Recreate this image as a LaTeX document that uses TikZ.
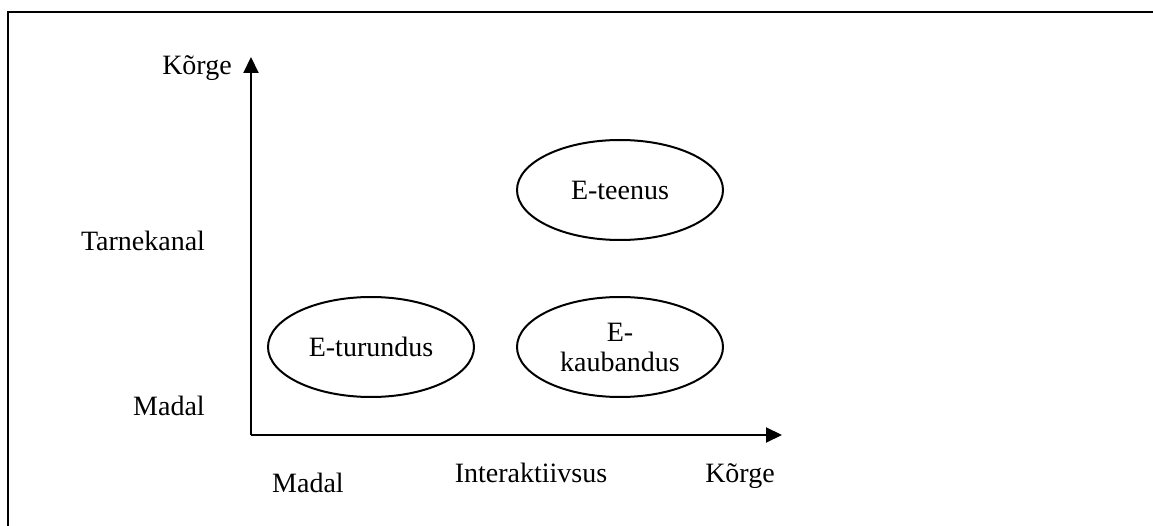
\documentclass[tikz,border=0pt]{standalone}
\usepackage{fontspec}
\setmainfont{Liberation Serif}
\usetikzlibrary{arrows.meta,shapes.geometric}
\begin{document}
\begin{tikzpicture}[x=1pt,y=-1pt,
  lbl/.style={font=\fontsize{28}{32}\selectfont, inner sep=0pt},
  oval/.style={draw, ellipse, line width=2pt, minimum width=206pt, minimum height=100pt, font=\fontsize{28}{32}\selectfont, align=center, inner sep=0pt},
  axis/.style={line width=2pt, -{Triangle[length=16pt,width=15pt]}}]
\useasboundingbox (0,0) rectangle (1153,526);
\draw[line width=2.5pt] (8,530) -- (8,12) -- (1160,12);
\coordinate (o) at (251,435);
\coordinate (ytip) at (251,57);
\coordinate (xtip) at (782,435);
\draw[axis] (o) -- (ytip);
\draw[axis] (o) -- (xtip);
\node[oval] (teenus) at (620,190) {E-teenus};
\node[oval] (turundus) at (371,347) {E-turundus};
\node[oval] (kaubandus) at (620,347) {E-\\[-2pt]kaubandus};
\node[lbl] (ykorge) at (197,68) {Kõrge};
\node[lbl] (tarne) at (143,241) {Tarnekanal};
\node[lbl] (ymadal) at (169,406) {Madal};
\node[lbl, anchor=base] (xmadal) at (308,492) {Madal};
\node[lbl, anchor=base] (inter) at (531,482) {Interaktiivsus};
\node[lbl, anchor=base] (xkorge) at (740,482) {Kõrge};
\end{tikzpicture}
\end{document}
